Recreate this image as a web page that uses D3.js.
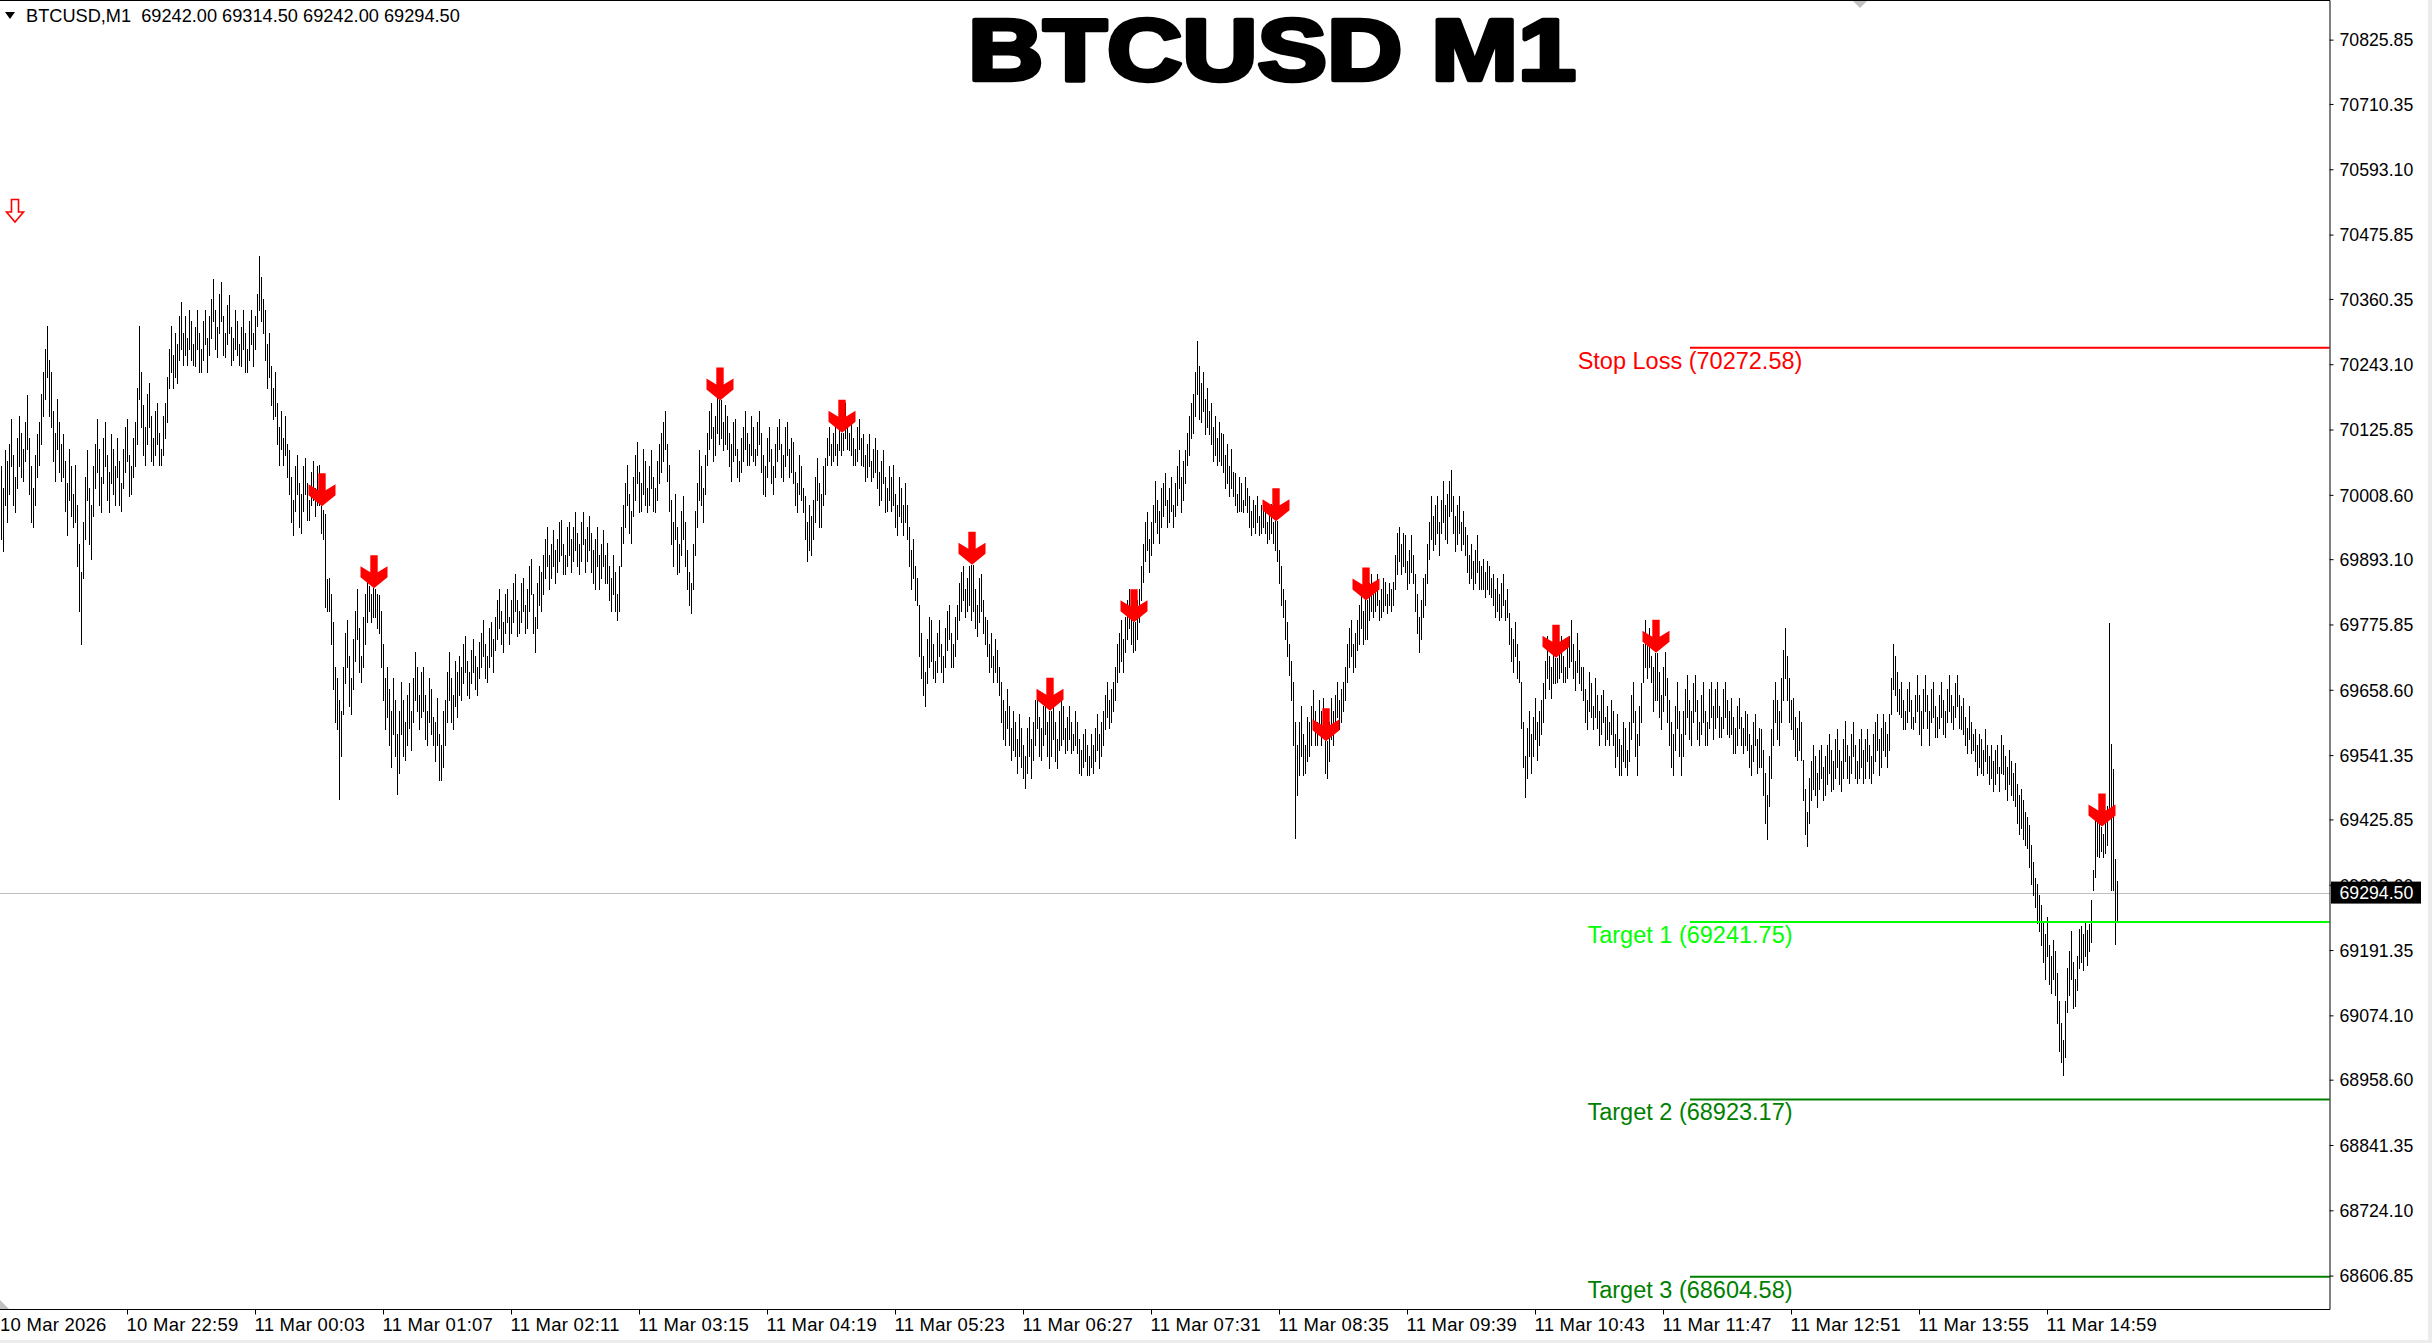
<!DOCTYPE html>
<html><head><meta charset="utf-8">
<script src="https://cdn.jsdelivr.net/npm/d3@7"></script>
<style>
html,body{margin:0;padding:0;background:#fff;overflow:hidden;}
svg{display:block;}
text{font-family:"Liberation Sans",Arial,sans-serif;}
</style></head><body>
<svg id="c" width="2432" height="1343"></svg>
<script>
const symbolName = "BTCUSD,M1";
const lastOHLC = [69242.00, 69314.50, 69242.00, 69294.50];
const chartTitle = "BTCUSD M1";
const currentPrice = 69294.50;

// per-minute bar highs / lows
const hi = [
70060,70020,70089,70070,70100,70145,70080,70040,70110,70150,
70120,70090,70140,70187,70110,70060,70020,70080,70117,70140,
70190,70230,70270,70312,70250,70229,70160,70120,70180,70140,
70100,70117,70070,70030,70090,70060,70010,70062,69990,69920,
69870,69960,70040,70089,70020,69990,70060,70100,70145,70090,
70040,70110,70140,70080,70050,70117,70090,70060,70110,70070,
70030,70090,70130,70145,70080,70060,70110,70140,70200,70312,
70229,70170,70130,70190,70210,70150,70110,70160,70173,70120,
70090,70150,70173,70220,70270,70312,70260,70300,70280,70330,
70354,70300,70330,70290,70340,70320,70280,70310,70340,70300,
70270,70320,70340,70290,70330,70360,70396,70340,70310,70370,
70390,70330,70300,70350,70368,70310,70290,70340,70320,70280,
70310,70340,70300,70270,70320,70340,70300,70330,70370,70437,
70400,70360,70340,70280,70300,70240,70200,70230,70173,70130,
70160,70110,70150,70100,70089,70040,70000,70060,70080,70030,
70010,70060,70075,70030,70000,70050,70070,70020,70060,70062,
69988,69981,69975,69857,69860,69830,69780,69700,69680,69640,
69620,69700,69760,69783,69720,69680,69750,69800,69839,69770,
69720,69790,69830,69853,69845,69830,69841,69840,69830,69829,
69800,69740,69680,69700,69660,69620,69680,69640,69580,69620,
69672,69640,69600,69650,69670,69620,69680,69727,69700,69650,
69690,69699,69650,69620,69680,69660,69610,69600,69644,69580,
69560,69620,69640,69690,69727,69680,69650,69710,69690,69720,
69700,69740,69755,69710,69690,69730,69750,69720,69700,69745,
69760,69783,69740,69720,69770,69780,69750,69790,69820,69839,
69800,69780,69830,69839,69790,69820,69850,69867,69820,69800,
69850,69860,69810,69840,69880,69894,69830,69790,69850,69880,
69870,69900,69930,69950,69900,69920,69945,69910,69930,69960,
69964,69920,69900,69950,69960,69930,69950,69978,69940,69920,
69960,69978,69930,69950,69970,69940,69910,69930,69950,69900,
69920,69945,69900,69922,69880,69860,69900,69870,69830,69880,
69950,69990,70030,70062,70010,69980,70040,70080,70103,70050,
70030,70090,70070,70020,70060,70089,70040,70020,70070,70100,
70120,70140,70159,70100,70062,70000,69960,70010,69950,69920,
69980,70006,69960,69910,69870,69850,69920,69980,70030,70089,
70060,70020,70080,70120,70160,70173,70130,70150,70187,70178,
70178,70140,70170,70150,70120,70100,70140,70145,70090,70070,
70110,70130,70159,70120,70100,70150,70130,70090,70140,70159,
70120,70080,70060,70110,70131,70090,70060,70100,70130,70145,
70100,70080,70130,70140,70090,70110,70103,70050,70030,70080,
70060,70020,70006,69960,69990,69970,70000,70040,70075,70030,
70010,70060,70075,70110,70131,70100,70120,70131,70100,70140,
70120,70120,70173,70150,70120,70145,70110,70090,70130,70145,
70110,70117,70080,70100,70117,70070,70090,70110,70089,70050,
70070,70089,70040,70020,70060,70040,70062,70010,69990,70040,
70020,69990,70030,69990,69950,69910,69930,69880,69860,69811,
69760,69720,69690,69750,69790,69783,69740,69710,69760,69783,
69740,69720,69770,69800,69811,69760,69740,69790,69811,69850,
69870,69880,69840,69860,69880,69883,69883,69840,69810,69860,
69867,69820,69790,69783,69740,69760,69720,69750,69730,69700,
69672,69640,69620,69660,69630,69590,69620,69600,69570,69616,
69590,69560,69540,69590,69610,69570,69600,69640,69658,69610,
69590,69630,69650,69600,69621,69621,69644,69600,69570,69620,
69640,69630,69590,69610,69630,69600,69580,69620,69600,69570,
69550,69580,69588,69560,69540,69580,69560,69590,69616,69580,
69600,69620,69650,69672,69640,69660,69672,69700,69740,69760,
69783,69750,69790,69820,69839,69800,69780,69780,69820,69839,
69880,69920,69960,69978,69930,69960,69990,70034,70000,69980,
70020,70030,70048,70000,70020,70040,69990,70030,70060,70089,
70040,70070,70089,70120,70150,70173,70190,70230,70284,70240,
70210,70229,70180,70200,70160,70173,70130,70150,70110,70140,
70120,70117,70080,70100,70060,70090,70050,70048,70010,70040,
70030,70000,70040,70020,70006,69980,70000,69990,70006,69970,
69990,70000,69992,69960,69980,69992,69960,69961,69961,69910,
69880,69840,69820,69780,69740,69710,69672,69600,69560,69600,
69630,69580,69560,69610,69600,69630,69658,69620,69600,69640,
69620,69644,69566,69566,69600,69644,69620,69650,69672,69640,
69660,69672,69700,69740,69770,69783,69740,69760,69783,69810,
69839,69800,69819,69819,69850,69867,69830,69850,69867,69820,
69840,69860,69853,69830,69850,69840,69853,69900,69940,69950,
69920,69940,69936,69890,69910,69936,69900,69867,69830,69790,
69820,69860,69867,69920,69960,70006,69970,69990,70006,69960,
70000,70034,69990,70010,70034,70053,70006,69970,69990,70006,
69960,69980,69950,69936,69900,69920,69890,69910,69936,69890,
69880,69894,69870,69890,69880,69860,69867,69840,69860,69830,
69850,69867,69820,69840,69797,69770,69750,69780,69740,69710,
69672,69600,69540,69590,69620,69580,69610,69644,69600,69620,
69640,69670,69710,69755,69720,69700,69740,69716,69716,69740,
69755,69720,69700,69740,69755,69783,69740,69710,69760,69730,
69700,69699,69660,69640,69690,69670,69630,69680,69650,69620,
69650,69658,69610,69630,69600,69640,69620,69580,69616,69570,
69560,69600,69590,69550,69600,69650,69672,69620,69580,69630,
69670,69740,69783,69740,69769,69720,69700,69725,69725,69690,
69650,69700,69727,69680,69640,69600,69580,69630,69672,69620,
69580,69620,69660,69686,69640,69620,69670,69686,69640,69600,
69650,69672,69620,69600,69660,69672,69630,69660,69672,69630,
69610,69660,69672,69640,69620,69644,69610,69590,69630,69644,
69610,69590,69620,69616,69580,69560,69600,69616,69570,69590,
69588,69550,69510,69470,69540,69588,69640,69672,69640,69620,
69680,69730,69769,69720,69680,69640,69644,69610,69590,69620,
69600,69532,69480,69440,69500,69530,69560,69540,69510,69550,
69560,69520,69540,69560,69580,69550,69530,69570,69588,69550,
69530,69570,69602,69560,69540,69580,69600,69560,69530,69570,
69588,69550,69570,69588,69560,69540,69580,69600,69616,69570,
69590,69616,69600,69580,69616,69680,69741,69720,69690,69660,
69672,69640,69620,69660,69672,69640,69610,69650,69686,69650,
69620,69660,69686,69650,69620,69660,69672,69630,69610,69650,
69672,69640,69620,69660,69686,69650,69630,69670,69686,69650,
69630,69644,69610,69590,69630,69600,69580,69588,69560,69580,
69570,69550,69588,69560,69540,69560,69530,69550,69560,69520,
69577,69560,69540,69520,69550,69530,69510,69527,69490,69470,
69480,69460,69440,69430,69415,69380,69350,69320,69310,69290,
69272,69240,69220,69250,69200,69180,69210,69190,69150,69100,
69060,69030,69100,69160,69190,69226,69170,69140,69180,69230,
69235,69220,69240,69228,69238,69281,69335,69424,69437,69420,
69413,69400,69420,69450,69778,69561,69516,69354,69314.5
];
const lo = [
69930,69908,69990,69960,70010,70060,69990,69978,70020,70060,
70040,70034,70070,70090,70010,69960,69950,69990,70040,70062,
70100,70150,70180,70220,70150,70130,70070,70034,70090,70050,
70034,70040,69980,69936,70000,69970,69950,69960,69880,69800,
69741,69860,69930,70000,69920,69894,69970,70020,70050,69990,
69978,70030,70060,70000,69978,70030,70010,69990,70040,69990,
69980,70020,70050,70070,70006,70010,70040,70060,70100,70180,
70130,70080,70062,70100,70130,70070,70062,70080,70100,70062,
70062,70080,70110,70140,70201,70230,70201,70220,70210,70250,
70270,70242,70260,70242,70270,70250,70242,70240,70270,70229,
70229,70250,70280,70230,70260,70290,70320,70270,70256,70300,
70320,70260,70256,70280,70300,70242,70250,70270,70260,70242,
70240,70270,70229,70229,70250,70280,70240,70270,70312,70340,
70320,70300,70250,70200,70220,70170,70145,70150,70100,70062,
70090,70062,70080,70040,70010,69960,69936,69980,70010,69950,
69940,69980,70010,69964,69964,69990,70000,69970,69990,69990,
69940,69930,69807,69800,69800,69740,69660,69600,69588,69463,
69540,69616,69670,69700,69630,69616,69660,69710,69750,69690,
69672,69700,69740,69780,69800,69780,69790,69790,69770,69760,
69700,69640,69588,69610,69560,69520,69580,69540,69471,69510,
69580,69540,69532,69560,69590,69550,69600,69640,69620,69588,
69610,69620,69570,69560,69600,69580,69560,69530,69560,69496,
69496,69520,69560,69600,69640,69600,69588,69630,69610,69650,
69640,69670,69690,69650,69644,69670,69690,69660,69650,69680,
69700,69720,69680,69672,69700,69720,69690,69730,69750,69770,
69740,69727,69760,69780,69740,69760,69780,69800,69755,69760,
69780,69800,69760,69770,69800,69830,69760,69727,69770,69810,
69800,69830,69860,69880,69839,69860,69880,69850,69870,69890,
69900,69867,69867,69880,69900,69870,69890,69910,69880,69867,
69890,69920,69870,69890,69910,69870,69850,69839,69880,69840,
69860,69880,69850,69850,69820,69800,69830,69800,69783,69800,
69880,69922,69950,69990,69940,69922,69970,70000,70030,69978,
69980,70010,69990,69978,69990,70020,69980,69978,70000,70030,
70050,70070,70090,70034,69980,69920,69880,69930,69867,69870,
69900,69930,69880,69840,69810,69797,69840,69900,69950,70000,
69990,69960,70010,70062,70090,70110,70070,70080,70120,70100,
70110,70089,70100,70090,70060,70034,70070,70080,70040,70034,
70050,70070,70090,70062,70062,70080,70070,70062,70080,70100,
70050,70010,70006,70040,70070,70030,70010,70040,70070,70090,
70040,70034,70060,70080,70040,70050,70030,69990,69978,70010,
70000,69978,69930,69889,69910,69900,69930,69960,70000,69950,
69950,69990,70010,70062,70080,70062,70070,70080,70062,70089,
70080,70089,70110,70090,70089,70080,70062,70062,70070,70090,
70062,70060,70034,70040,70060,70034,70040,70050,70020,69990,
70000,70030,69978,69980,70000,69980,69990,69950,69936,69970,
69960,69936,69960,69930,69880,69840,69860,69820,69811,69720,
69680,69650,69630,69670,69700,69710,69680,69672,69690,69720,
69690,69672,69700,69730,69750,69699,69700,69720,69750,69783,
69800,69820,69790,69800,69810,69783,69800,69770,69755,69780,
69800,69760,69740,69720,69690,69700,69672,69690,69672,69650,
69600,69570,69560,69590,69560,69532,69550,69540,69510,69540,
69520,69500,69482,69510,69540,69500,69532,69560,69590,69540,
69532,69560,69580,69540,69519,69540,69570,69530,69519,69550,
69560,69570,69546,69550,69570,69546,69550,69560,69546,69510,
69505,69520,69530,69505,69505,69520,69510,69530,69550,69519,
69540,69560,69588,69610,69590,69600,69620,69640,69672,69690,
69710,69690,69727,69750,69770,69740,69727,69730,69750,69780,
69820,69853,69890,69910,69870,69900,69922,69960,69940,69922,
69950,69970,69990,69950,69960,69980,69950,69970,69990,70020,
69978,70000,70030,70062,70080,70110,70120,70150,70190,70145,
70140,70160,70117,70130,70117,70100,70070,70080,70062,70070,
70062,70050,70020,70030,70006,70020,70006,69990,69978,69980,
69980,69978,69990,69978,69950,69936,69950,69940,69960,69936,
69940,69950,69940,69922,69930,69940,69922,69910,69890,69850,
69811,69790,69750,69720,69686,69640,69560,69393,69470,69505,
69540,69505,69510,69530,69540,69560,69590,69560,69560,69580,
69560,69580,69510,69500,69530,69570,69560,69588,69610,69588,
69600,69620,69640,69672,69700,69720,69690,69700,69730,69740,
69770,69740,69750,69750,69783,69800,69790,69800,69810,69783,
69790,69800,69810,69797,69810,69800,69810,69840,69867,69890,
69867,69880,69870,69839,69850,69870,69850,69800,69760,69727,
69750,69790,69810,69850,69894,69930,69910,69920,69940,69900,
69940,69960,69930,69922,69970,69980,69940,69908,69920,69940,
69910,69920,69900,69870,69850,69860,69839,69850,69870,69840,
69839,69840,69825,69840,69830,69825,69810,69790,69800,69783,
69790,69810,69783,69790,69740,69710,69690,69720,69680,69672,
69590,69520,69466,69500,69540,69510,69540,69570,69532,69560,
69580,69600,69644,69680,69660,69644,69670,69670,69672,69680,
69690,69672,69672,69680,69700,69710,69680,69658,69690,69670,
69658,69640,69600,69588,69620,69610,69588,69610,69590,69560,
69580,69600,69560,69570,69560,69580,69560,69520,69540,69505,
69505,69530,69520,69505,69530,69570,69600,69540,69505,69560,
69600,69672,69700,69680,69700,69672,69620,69640,69640,69610,
69588,69620,69650,69600,69560,69520,69505,69550,69590,69540,
69505,69540,69580,69610,69570,69560,69600,69620,69570,69560,
69580,69600,69560,69560,69590,69610,69570,69590,69610,69574,
69574,69590,69610,69580,69574,69580,69546,69546,69560,69590,
69560,69546,69560,69550,69520,69505,69530,69560,69510,69520,
69520,69470,69420,69391,69450,69500,69560,69600,69570,69560,
69600,69640,69680,69640,69600,69588,69570,69540,69532,69550,
69532,69460,69400,69379,69420,69460,69480,69470,69449,69480,
69500,69460,69470,69490,69510,69477,69480,69500,69520,69490,
69477,69500,69530,69500,69491,69510,69540,69500,69491,69500,
69520,69491,69500,69530,69500,69491,69510,69530,69550,69505,
69520,69550,69540,69520,69550,69616,69660,69650,69620,69616,
69610,69588,69588,69600,69620,69590,69588,69600,69620,69580,
69560,69590,69620,69590,69560,69600,69610,69574,69574,69590,
69610,69580,69574,69600,69620,69600,69588,69610,69630,69590,
69588,69580,69560,69546,69570,69546,69550,69530,69505,69520,
69510,69505,69530,69510,69490,69500,69477,69490,69510,69477,
69510,69508,69480,69460,69490,69470,69460,69450,69420,69400,
69410,69390,69380,69375,69340,69310,69290,69268,69240,69226,
69200,69170,69140,69180,69130,69115,69140,69110,69060,69010,
68990,68967,69000,69080,69110,69140,69087,69090,69120,69160,
69170,69156,69180,69165,69190,69205,69300,69322,69360,69358,
69370,69358,69365,69380,69437,69299,69299,69203,69242
];

// bars carrying a sell-signal arrow
const signalBars = [160,186,359,420,485,524,566,637,662,682,777,827,1050];

// price axis labels
const yTickValues = [70825.85,70710.35,70593.10,70475.85,70360.35,70243.10,70125.85,70008.60,69893.10,69775.85,69658.60,69541.35,69425.85,69308.60,69191.35,69074.10,68958.60,68841.35,68724.10,68606.85];

// time axis labels and the bar index each one marks
const timeLabels = ["10 Mar 2026","10 Mar 22:59","11 Mar 00:03","11 Mar 01:07","11 Mar 02:11","11 Mar 03:15","11 Mar 04:19","11 Mar 05:23","11 Mar 06:27","11 Mar 07:31","11 Mar 08:35","11 Mar 09:39","11 Mar 10:43","11 Mar 11:47","11 Mar 12:51","11 Mar 13:55","11 Mar 14:59"];
const timeLabelBars = [0,63,127,191,255,319,383,447,511,575,639,703,767,831,895,959,1023];

// trade levels
const levelNames = ["Stop Loss","Target 1","Target 2","Target 3"];
const levelValues = [70272.58,69241.75,68923.17,68604.58];
const levelColors = ["#ff0000","#00ff00","#008000","#008000"];

const W = 2432, H = 1343;
const plotRight = 2329.5, plotBottom = 1309.5;
const svg = d3.select("#c");

const x = d3.scaleLinear().domain([0, 1000]).range([1, 2001]);
const y = d3.scaleLinear().domain([68546.9, 70897]).range([1309, 0]);

// window border
svg.append("rect").attr("x",2428).attr("y",0).attr("width",4).attr("height",H).attr("fill","#ececec");
svg.append("rect").attr("x",0).attr("y",1340).attr("width",W).attr("height",3).attr("fill","#ececec");

// current price line
svg.append("line").attr("x1",0).attr("x2",plotRight)
  .attr("y1",Math.round(y(currentPrice))+0.5).attr("y2",Math.round(y(currentPrice))+0.5)
  .attr("stroke","#c0c0c0").attr("stroke-width",1).attr("shape-rendering","crispEdges");

// bars
svg.append("g").attr("shape-rendering","crispEdges")
  .selectAll("line").data(hi).join("line")
  .attr("x1",(d,i)=>Math.round(x(i))+0.5).attr("x2",(d,i)=>Math.round(x(i))+0.5)
  .attr("y1",d=>y(d)).attr("y2",(d,i)=>y(lo[i])+1)
  .attr("stroke","#000").attr("stroke-width",1);

// level lines + labels
const lvStart = 1690;
levelValues.forEach((v,k)=>{
  svg.append("line").attr("x1",lvStart).attr("x2",plotRight)
    .attr("y1",y(v)).attr("y2",y(v))
    .attr("stroke",levelColors[k]).attr("stroke-width",2);
  svg.append("text").attr("x",lvStart).attr("y",y(v)+21)
    .attr("text-anchor","middle").attr("font-size","23.5px")
    .attr("fill",levelColors[k])
    .text(levelNames[k]+" ("+v.toFixed(2)+")");
});

// signal arrows
const arrowPts = [[0,0],[13.5,-11],[13.5,-22],[3.7,-16],[3.7,-33],[-3.7,-33],[-3.7,-16],[-13.5,-22],[-13.5,-11]];
svg.append("g").selectAll("polygon").data(signalBars).join("polygon")
  .attr("transform",i=>`translate(${Math.round(x(i))+1},${y(hi[i])})`)
  .attr("points",arrowPts.map(p=>p.join(",")).join(" "))
  .attr("fill","#ff0000");

// hollow arrow at the left
svg.append("polygon")
  .attr("points","11.5,199.5 18.5,199.5 18.5,212 23.5,212 15,222 6.5,212 11.5,212")
  .attr("fill","#fff").attr("stroke","#ff0000").attr("stroke-width",1.6);

// frame
svg.append("line").attr("x1",0).attr("x2",plotRight+0.5).attr("y1",0.5).attr("y2",0.5).attr("stroke","#000");
svg.append("line").attr("x1",0).attr("x2",plotRight+0.5).attr("y1",plotBottom).attr("y2",plotBottom).attr("stroke","#000");

// gray shift markers
svg.append("polygon").attr("points","1853,1 1867,1 1860,8").attr("fill","#c0c0c0");
svg.append("polygon").attr("points","0,1300 9,1309 0,1309").attr("fill","#c0c0c0");

// y axis
const yAxis = d3.axisRight(y).tickValues(yTickValues).tickSize(4).tickSizeOuter(0).tickPadding(6)
  .tickFormat(d=>d.toFixed(2));
const gy = svg.append("g").attr("transform",`translate(${plotRight},0)`).call(yAxis);
gy.attr("font-family",null).attr("font-size",null);
gy.select(".domain").attr("stroke","#000");
gy.selectAll(".tick line").attr("stroke","#000");
gy.selectAll(".tick text").attr("font-size","17.7px").attr("fill","#000").attr("dy",null).attr("y",6.3);

// x axis
const xAxis = d3.axisBottom(x).tickValues(timeLabelBars.slice(1)).tickSize(5).tickSizeOuter(0)
  .tickFormat((d,i)=>timeLabels[i+1]);
const gx = svg.append("g").attr("transform",`translate(0,${plotBottom})`).call(xAxis);
gx.attr("font-family",null).attr("font-size",null);
gx.select(".domain").remove();
gx.selectAll(".tick line").attr("stroke","#000");
gx.selectAll(".tick text").attr("font-size","18.5px").attr("letter-spacing","0.25px").attr("fill","#000")
  .attr("text-anchor","start").attr("dy",null).attr("y",21.5).attr("x",-1);
svg.append("text").attr("x",x(timeLabelBars[0])-1).attr("y",plotBottom+21.5)
  .attr("font-size","18.5px").attr("letter-spacing","0.25px").attr("fill","#000").text(timeLabels[0]);

// current price box
const cy = y(currentPrice);
svg.append("rect").attr("x",2331).attr("y",cy-11).attr("width",90).attr("height",22).attr("fill","#000");
svg.append("text").attr("x",2339.5).attr("y",cy+6.3).attr("font-size","17.7px").attr("fill","#fff")
  .text(currentPrice.toFixed(2));

// header
svg.append("polygon").attr("points","5,12 15,12 10,19").attr("fill","#000");
svg.append("text").attr("x",26).attr("y",21.5).attr("font-size","18.2px").attr("fill","#000")
  .style("white-space","pre")
  .text(symbolName+"  "+lastOHLC.map(v=>v.toFixed(2)).join(" "));

// title
svg.append("text").attr("x",1272).attr("y",80).attr("text-anchor","middle")
  .attr("font-size","87px").attr("font-weight","bold").attr("fill","#000")
  .attr("stroke","#000").attr("stroke-width",4.5).attr("stroke-linejoin","round")
  .attr("textLength",608).attr("lengthAdjust","spacingAndGlyphs")
  .text(chartTitle);
</script>
</body></html>
